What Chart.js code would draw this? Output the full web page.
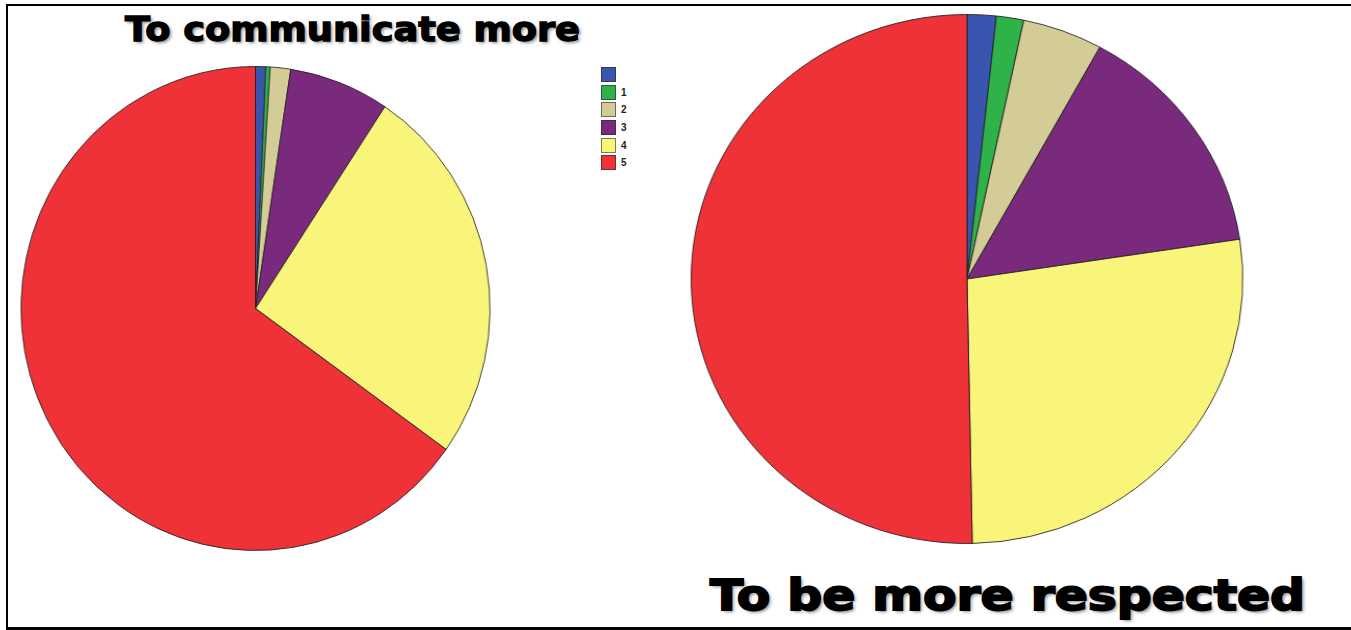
<!DOCTYPE html>
<html>
<head>
<meta charset="utf-8">
<script src="https://cdn.jsdelivr.net/npm/chart.js@4/dist/chart.umd.min.js"></script>
<style>
  html, body { margin: 0; padding: 0; background: #fff; }
  body { width: 1351px; height: 630px; position: relative; overflow: hidden; }
  #frame {
    position: absolute; left: 6px; top: 4px; width: 1351px; height: 621px;
    border-left: 2px solid #000; border-top: 2px solid #000; border-bottom: 3px solid #000;
  }
  .pie { position: absolute; }
  .title {
    position: absolute; white-space: nowrap; font-family: "DejaVu Sans", sans-serif;
    font-weight: bold; color: #000; transform-origin: 0 0;
    text-shadow: 2px 2px 3px rgba(0,0,0,0.45);
  }
  #titleLeft { -webkit-text-stroke: 1.3px #000; }
  #titleRight { -webkit-text-stroke: 1.8px #000; }
  #legend { position: absolute; left: 601px; top: 67px; font-family: "Liberation Sans", Arial, sans-serif; }
  .li { position: relative; height: 17.7px; }
  .sw { position: absolute; left: 0; top: 0; width: 13px; height: 13px; border: 1px solid rgba(40,40,40,0.6); }
  .lt { position: absolute; left: 20px; top: 2px; font-size: 10px; font-weight: bold; color: #222; }
</style>
</head>
<body>
<div id="frame"></div>
<canvas id="pieLeft" class="pie" width="485" height="485"></canvas>
<canvas id="pieRight" class="pie" width="530" height="530"></canvas>
<div id="legend"></div>
<div id="titleLeft" class="title">To communicate more</div>
<div id="titleRight" class="title">To be more respected</div>
<script>
// Response categories (first one is the unlabelled missing-answer group)
const categories = ['', '1', '2', '3', '4', '5'];
const sliceColors = ['#3a55b0', '#2fb24a', '#d3cc97', '#7a2a7c', '#f8f57a', '#ee3238'];

// Percent share of each answer
const communicateMore = [0.7, 0.3, 1.4, 6.9, 25.6, 65.1];
const moreRespected   = [1.7, 1.6, 4.7, 14.6, 27.1, 50.3];

function drawPie(id, values, left, top, size, stretchX) {
  const el = document.getElementById(id);
  el.style.left = left + 'px';
  el.style.top = top + 'px';
  new Chart(el, {
    type: 'pie',
    data: {
      labels: categories,
      datasets: [{
        data: values,
        backgroundColor: sliceColors,
        borderColor: 'rgba(30,30,30,0.85)',
        borderWidth: 1
      }]
    },
    options: {
      responsive: false,
      animation: false,
      layout: { padding: 0 },
      plugins: { legend: { display: false }, tooltip: { enabled: false } }
    }
  });
  el.style.transformOrigin = '50% 50%';
  el.style.transform = 'scaleX(' + stretchX + ')';
}

drawPie('pieLeft', communicateMore, 12.5, 66, 485, 0.969);
drawPie('pieRight', moreRespected, 701.5, 14, 530, 1.043);

// Legend
const legend = document.getElementById('legend');
categories.forEach((c, i) => {
  const row = document.createElement('div');
  row.className = 'li';
  row.innerHTML = '<div class="sw" style="background:' + sliceColors[i] + '"></div><div class="lt">' + c + '</div>';
  legend.appendChild(row);
});

// Titles, stretched to their set widths
function placeTitle(id, x, y, size, width) {
  const t = document.getElementById(id);
  t.style.fontSize = size + 'px';
  t.style.left = x + 'px';
  t.style.top = y + 'px';
  const w = t.getBoundingClientRect().width;
  t.style.transform = 'scaleX(' + (width / w) + ')';
}
placeTitle('titleLeft', 125, 10, 33, 455);
placeTitle('titleRight', 710, 571, 42, 595);
</script>
</body>
</html>
